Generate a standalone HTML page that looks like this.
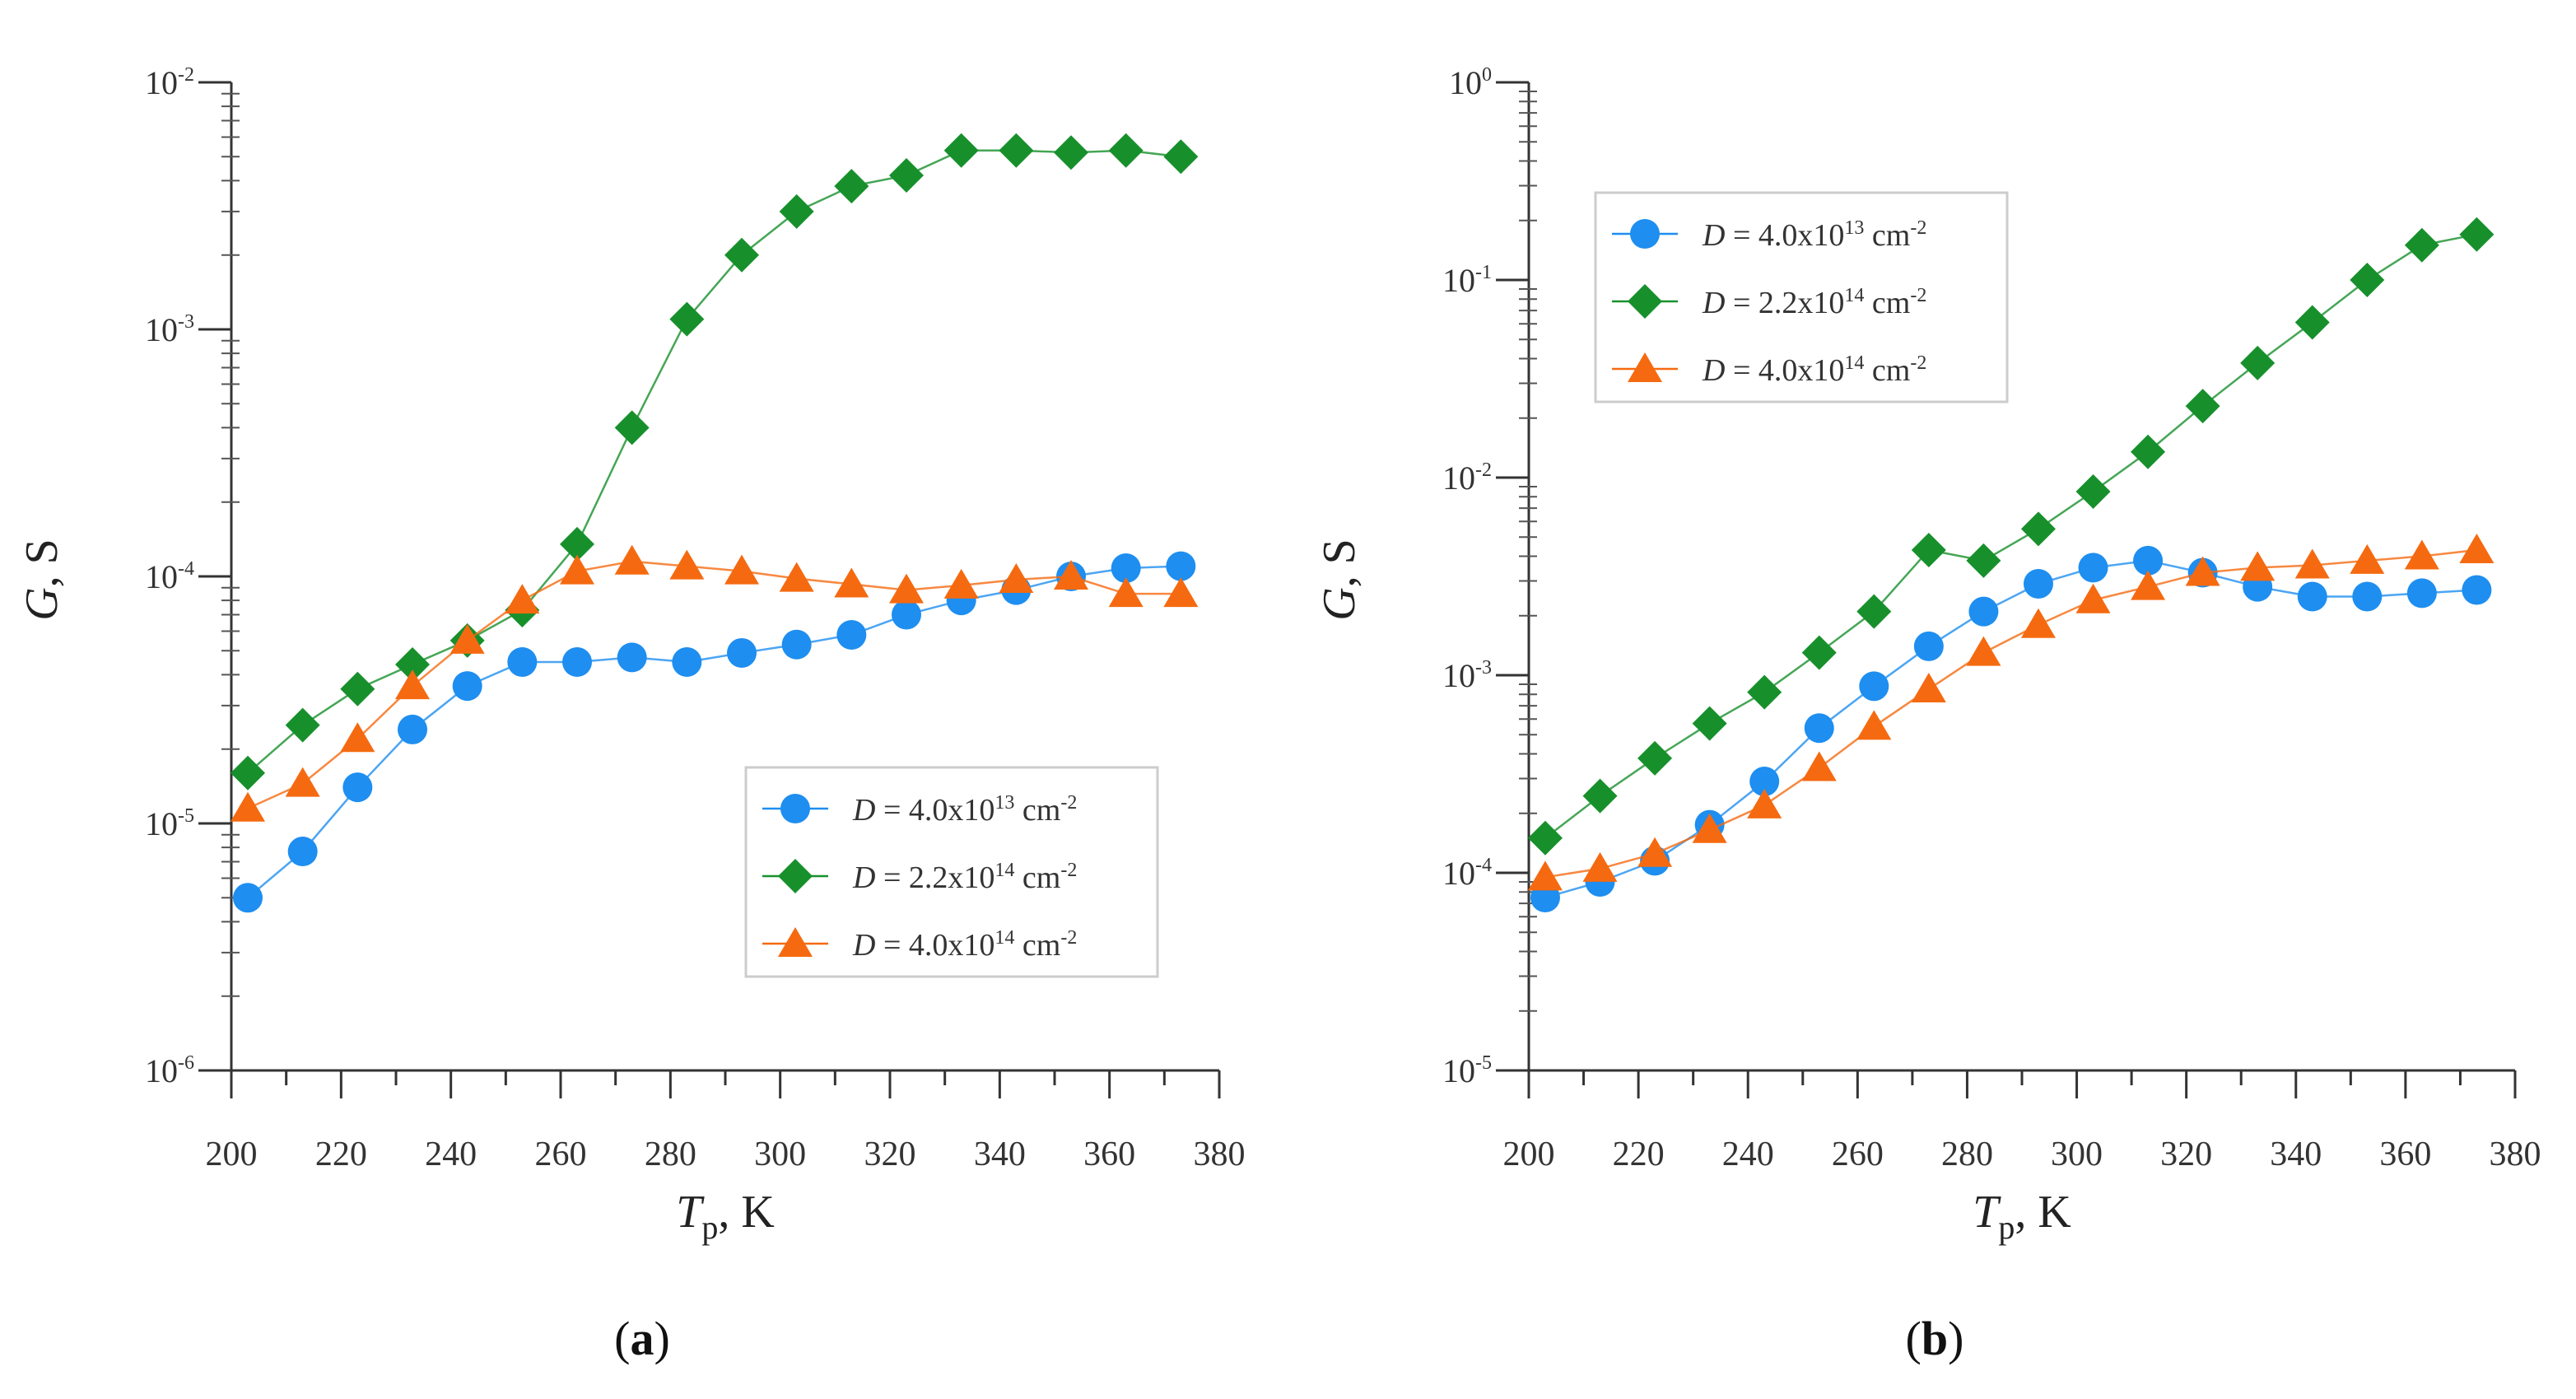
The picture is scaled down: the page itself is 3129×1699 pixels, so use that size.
<!DOCTYPE html>
<html><head><meta charset="utf-8"><style>
html,body{margin:0;padding:0;background:#fff;}
svg{display:block;font-family:"Liberation Serif",serif;}
</style></head><body>
<svg id="chart" width="3129" height="1699" viewBox="0 0 3129 1699" xmlns="http://www.w3.org/2000/svg"></svg>
<script>
const temps = [203,213,223,233,243,253,263,273,283,293,303,313,323,333,343,353,363,373];
const xTicks = [200,220,240,260,280,300,320,340,360,380];
const seriesNames = ["4.0x10","2.2x10","4.0x10"];
const seriesExp = ["13","14","14"];
const aBlue = [5e-6,7.7e-6,1.4e-5,2.4e-5,3.6e-5,4.5e-5,4.5e-5,4.7e-5,4.5e-5,4.9e-5,5.3e-5,5.8e-5,7e-5,8e-5,8.8e-5,1.0e-4,1.08e-4,1.1e-4];
const aGreen = [1.6e-5,2.5e-5,3.5e-5,4.4e-5,5.5e-5,7.3e-5,1.35e-4,4e-4,1.1e-3,2e-3,3e-3,3.8e-3,4.2e-3,5.3e-3,5.3e-3,5.2e-3,5.3e-3,5e-3];
const aOrange = [1.15e-5,1.45e-5,2.2e-5,3.6e-5,5.5e-5,8e-5,1.05e-4,1.15e-4,1.1e-4,1.05e-4,9.8e-5,9.3e-5,8.8e-5,9.2e-5,9.7e-5,1.0e-4,8.5e-5,8.5e-5];
const bBlue = [7.5e-5,9e-5,1.15e-4,1.75e-4,2.9e-4,5.4e-4,8.8e-4,1.4e-3,2.1e-3,2.9e-3,3.5e-3,3.8e-3,3.3e-3,2.8e-3,2.5e-3,2.5e-3,2.6e-3,2.7e-3];
const bGreen = [1.5e-4,2.45e-4,3.8e-4,5.7e-4,8.2e-4,1.3e-3,2.1e-3,4.3e-3,3.8e-3,5.5e-3,8.5e-3,1.35e-2,2.3e-2,3.8e-2,6.1e-2,0.1,0.15,0.17];
const bOrange = [9.5e-5,1.05e-4,1.25e-4,1.65e-4,2.2e-4,3.4e-4,5.5e-4,8.5e-4,1.3e-3,1.8e-3,2.4e-3,2.8e-3,3.3e-3,3.5e-3,3.6e-3,3.8e-3,4.0e-3,4.3e-3];
const aDecades = [-6,-5,-4,-3,-2];
const bDecades = [-5,-4,-3,-2,-1,0];

const NS="http://www.w3.org/2000/svg";
const svg=document.getElementById('chart');
function mk(tag,attrs,parent){const e=document.createElementNS(NS,tag);for(const k in attrs)e.setAttribute(k,attrs[k]);(parent||svg).appendChild(e);return e;}
const COL=["#1e8ef0","#17902c","#f56a10"];

function panel(id,x0,x1,y0,y1,decades,data,legend,label,labelX){
  const g=mk('g',{});
  
  
  const dmin=decades[0],dmax=decades[decades.length-1];
  const X=t=>x0+(t-200)/(380-200)*(x1-x0);
  const Y=v=>y1-(Math.log10(v)-dmin)/(dmax-dmin)*(y1-y0);
  const ax=mk('path',{d:`M${x0} ${y0}V${y1}H${x1}`,stroke:'#333',fill:'none','stroke-width':3},g);
  
  
  decades.forEach((d,i)=>{
    const y=Y(Math.pow(10,d));
    mk('line',{x1:x0-40,x2:x0,y1:y,y2:y,stroke:'#333','stroke-width':3},g);
    const t=mk('text',{x:x0-45,y:y+14,'font-size':40,'text-anchor':'end',fill:'#333'},g);
    
    
    t.innerHTML='10<tspan dy="-16" font-size="24">'+d+'</tspan>';
    if(i<decades.length-1){for(let m=2;m<=9;m++){const ym=Y(m*Math.pow(10,d));
      mk('line',{x1:x0-12,x2:x0+10,y1:ym,y2:ym,stroke:'#555','stroke-width':2},g);}}
  });
  xTicks.forEach((v,i)=>{
    const x=X(v);
    mk('line',{x1:x,x2:x,y1:y1,y2:y1+34,stroke:'#333','stroke-width':3},g);
    if(i<xTicks.length-1)mk('line',{x1:X(v+10),x2:X(v+10),y1:y1,y2:y1+18,stroke:'#333','stroke-width':3},g);
    const t=mk('text',{x:x,y:y1+115,'font-size':42,'text-anchor':'middle',fill:'#333'},g);
    
    
    t.textContent=v;
  });
  const xt=mk('text',{x:(x0+x1)/2,y:y1+190,'font-size':56,'text-anchor':'middle',fill:'#222'},g);
  
  
  xt.innerHTML='<tspan font-style="italic">T</tspan><tspan dy="14" font-size="40">p</tspan><tspan dy="-14">, K</tspan>';
  const yt=mk('text',{x:0,y:0,'font-size':56,'text-anchor':'middle',fill:'#222',transform:`translate(${x0-212} ${(y0+y1)/2+4}) rotate(-90)`},g);
  
  
  yt.innerHTML='<tspan font-style="italic">G</tspan>, S';
  const lab=mk('text',{x:labelX,y:1645,'font-size':58,'text-anchor':'middle',fill:'#111'},g);
  
  
  lab.innerHTML='(<tspan font-weight="bold">'+label+'</tspan>)';
  data.forEach((vals,s)=>{
    const pts=vals.map((v,i)=>[X(temps[i]),Y(v)]);
    const pl=mk('polyline',{points:pts.map(p=>p.join(',')).join(' '),fill:'none',stroke:COL[s],'stroke-width':2.5,opacity:0.8},g);
    
    
    pts.forEach(p=>{const m=marker(s,p[0],p[1],g);
      
      });
  });
  const [lx,ly]=legend;
  const lg=mk('g',{},g);
  
  
  mk('rect',{x:lx,y:ly,width:500,height:254,fill:'#fff',stroke:'#ccc','stroke-width':3},lg);
  [0,1,2].forEach(s=>{
    const yy=ly+50+s*82;
    const e=mk('g',{},lg);
    
    
    mk('line',{x1:lx+20,x2:lx+100,y1:yy,y2:yy,stroke:COL[s],'stroke-width':2.5},e);
    marker(s,lx+60,yy,e);
    const t=mk('text',{x:lx+130,y:yy+14,'font-size':38,fill:'#333'},e);
    t.innerHTML='<tspan font-style="italic">D</tspan> = '+seriesNames[s]+'<tspan dy="-14" font-size="24">'+seriesExp[s]+'</tspan><tspan dy="14"> cm</tspan><tspan dy="-14" font-size="24">-2</tspan>';
  });
}
function marker(s,x,y,p){
  const r=18;
  if(s===0)return mk('circle',{cx:x,cy:y,r:r,fill:COL[0]},p);
  if(s===1)return mk('path',{d:`M${x} ${y-21}L${x+21} ${y}L${x} ${y+21}L${x-21} ${y}Z`,fill:COL[1]},p);
  return mk('path',{d:`M${x} ${y-20}L${x+21} ${y+16}L${x-21} ${y+16}Z`,fill:COL[2]},p);
}
panel('a',281,1481,100,1300,aDecades,[aBlue,aGreen,aOrange],[906,932],'a',780);
panel('b',1857,3055,100,1300,bDecades,[bBlue,bGreen,bOrange],[1938,234],'b',2350);
</script>
</body></html>
